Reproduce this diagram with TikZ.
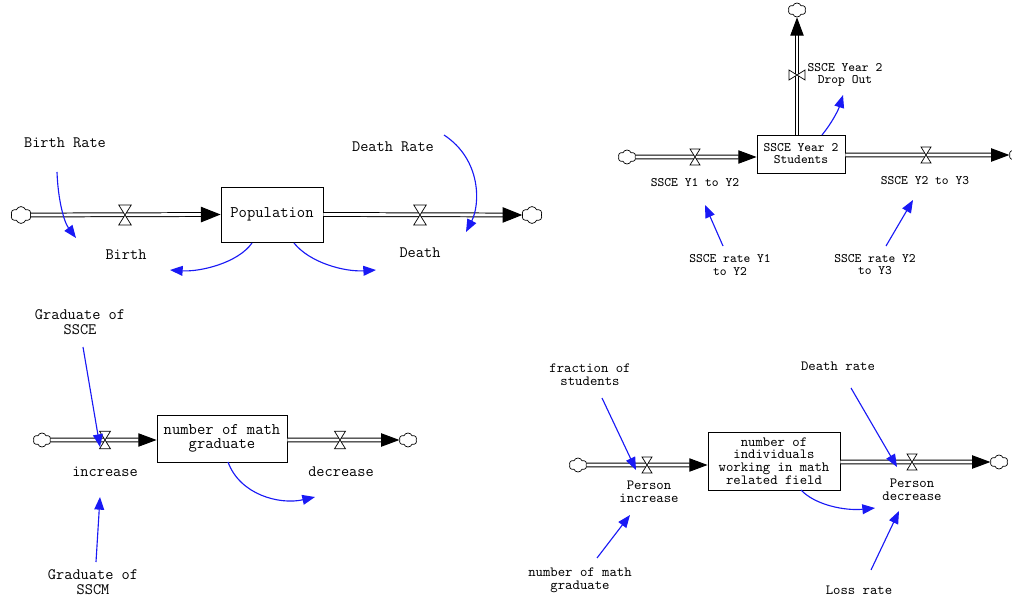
\documentclass[tikz,border=0pt]{standalone}
\usepackage{fontspec}
\usetikzlibrary{arrows.meta,shapes.symbols}
\definecolor{LinkBlue}{RGB}{25,25,245}
\tikzset{
  valve/.pic={
    \draw[fill=white, line width=0.5pt] (-5,-8) -- (5,-8) -- (-5,8) -- (5,8) -- cycle;
  },
}

\begin{document}
\begin{tikzpicture}[x=0.025cm, y=-0.025cm,
    stock/.style={rectangle, draw, line width=0.6pt, fill=white,
                  align=center, inner sep=1pt},
    cloudy/.style={cloud, cloud puffs=6, cloud puff arc=140, aspect=1.3,
                   draw, line width=0.5pt, minimum width=12.5pt,
                   minimum height=10pt, inner sep=0pt},
    bigcloud/.style={cloudy, minimum width=14.5pt, minimum height=12pt},
    pipe/.style={double=white, double distance=2pt, line width=0.7pt,
                 -{Triangle[length=13pt, width=9.5pt]}},
    bigpipe/.style={pipe, -{Triangle[length=14pt, width=11pt]}},
    link/.style={LinkBlue, line width=0.8pt,
                 -{Triangle[length=9pt, width=7pt]}},
    lblA/.style={font=\ttfamily\fontsize{11.3}{10.7}\selectfont, align=center},
    lblB/.style={font=\ttfamily\fontsize{9.2}{8.6}\selectfont, align=center},
    lblC/.style={font=\ttfamily\fontsize{10}{9}\selectfont, align=center}
  ]
  \useasboundingbox (0,0) rectangle (1012,597);

  % population
  \node[bigcloud] (popIn) at (21,215) {};
  \node[bigcloud] (popOut) at (532,215) {};
  \node[stock, minimum width=102*0.025cm, minimum height=55*0.025cm,
        font=\ttfamily\fontsize{11.5}{11}\selectfont] (pop) at (272,214.5) {Population};
  \draw[bigpipe] (popIn.east) -- (pop.west);
  \draw[bigpipe] (pop.east) -- (popOut.west);
  \coordinate (vBirth) at (125,215);
  \coordinate (vDeath) at (420,215);
  \pic[scale=1.25] at (vBirth) {valve};
  \pic[scale=1.25] at (vDeath) {valve};
  \node[lblA] (brate) at (65,143) {Birth Rate};
  \node[lblA] (birth) at (126,255) {Birth};
  \node[lblA] (drate) at (393,147) {Death Rate};
  \node[lblA] (death) at (420,253) {Death};
  \coordinate (brateS) at (57,172);
  \coordinate (birthT) at (76,238);
  \coordinate (drateS) at (444,135);
  \coordinate (deathT) at (466,232);
  \coordinate (birthB) at (170,270);
  \coordinate (deathB) at (376,270);
  \draw[link] (brateS) .. controls (58,200) and (64,222) .. (birthT);
  \draw[link] (drateS) .. controls (482,160) and (480,205) .. (deathT);
  \draw[link] (252,243) .. controls (238,263) and (200,272) .. (birthB);
  \draw[link] (294,243) .. controls (310,263) and (345,272) .. (deathB);

  % SSCE year 2
  \node[cloudy] (yIn) at (627,157) {};
  \node[cloudy] (yOut) at (1018,155) {};
  \node[cloudy] (yDrop) at (797,10) {};
  \node[stock, minimum width=88*0.025cm, minimum height=38*0.025cm,
        font=\ttfamily\fontsize{9.2}{8.6}\selectfont] (yStu) at (801,154) {SSCE Year 2\\Students};
  \draw[pipe] (yIn.east) -- (yIn -| yStu.west);
  \draw[pipe] (yOut -| yStu.east) -- (yOut.west);
  \draw[pipe] (yDrop |- yStu.north) -- (yDrop.south);
  \coordinate (v21) at (695,157);
  \coordinate (v22) at (926,155);
  \coordinate (v23) at (797,75);
  \pic at (v21) {valve};
  \pic at (v22) {valve};
  \pic[rotate=90] at (v23) {valve};
  \node[lblB] (yDropL) at (845,75) {SSCE Year 2\\Drop Out};
  \node[lblB] (y12) at (695,183) {SSCE Y1 to Y2};
  \node[lblB] (y23) at (925,181) {SSCE Y2 to Y3};
  \node[lblB] (r12) at (730,265) {SSCE rate Y1\\to Y2};
  \node[lblB] (r23) at (875,265) {SSCE rate Y2\\to Y3};
  \coordinate (dropT) at (843,95);
  \draw[link] (822,135) .. controls (831,124) and (838,111) .. (dropT);
  \draw[link] (723,246) -- (705,205);
  \draw[link] (886,246) -- (913,200);

  % math graduates
  \node[cloudy] (gIn) at (42,440) {};
  \node[cloudy] (gOut) at (408,440) {};
  \node[stock, minimum width=130*0.025cm, minimum height=47*0.025cm,
        font=\ttfamily\fontsize{11.5}{10}\selectfont] (grad) at (222,438.5) {number of math\\graduate};
  \draw[pipe] (gIn.east) -- (gIn -| grad.west);
  \draw[pipe] (gOut -| grad.east) -- (gOut.west);
  \coordinate (v31) at (105,440);
  \coordinate (v32) at (340,440);
  \pic[scale=1.1] at (v31) {valve};
  \pic[scale=1.1] at (v32) {valve};
  \node[lblA] (gSSCE) at (80,322) {Graduate of\\SSCE};
  \node[lblA] (incr) at (105,472) {increase};
  \node[lblA] (decr) at (341,472) {decrease};
  \node[lblA] (gSSCM) at (93,582) {Graduate of\\SSCM};
  \draw[link] (83,347) -- (100,447);
  \draw[link] (96,562) -- (100,497);
  \draw[link] (228,462) .. controls (240,495) and (280,505) .. (315,497);

  % individuals in math field
  \node[cloudy] (pIn) at (578,465) {};
  \node[cloudy] (pOut) at (999,462) {};
  \node[stock, minimum width=132*0.025cm, minimum height=58*0.025cm,
        font=\ttfamily\fontsize{10}{9}\selectfont] (indiv) at (774,461)
        {number of\\individuals\\working in math\\related field};
  \draw[pipe] (pIn.east) -- (pIn -| indiv.west);
  \draw[pipe] (pOut -| indiv.east) -- (pOut.west);
  \coordinate (v41) at (647,465);
  \coordinate (v42) at (912,462);
  \pic at (v41) {valve};
  \pic at (v42) {valve};
  \node[lblC] (frac) at (590,375) {fraction of\\students};
  \node[lblC] (pIncr) at (649,492) {Person\\increase};
  \node[lblC] (drate2) at (838,366) {Death rate};
  \node[lblC] (pDecr) at (912,490) {Person\\decrease};
  \node[lblC] (nGrad) at (580,580) {number of math\\graduate};
  \node[lblC] (loss) at (859,590) {Loss rate};
  \draw[link] (602,398) -- (636,470);
  \draw[link] (851,388) -- (897,467);
  \draw[link] (597,558) -- (630,515);
  \draw[link] (871,570) -- (899,511);
  \draw[link] (801,490) .. controls (815,505) and (845,511) .. (875,508);
\end{tikzpicture}
\end{document}
